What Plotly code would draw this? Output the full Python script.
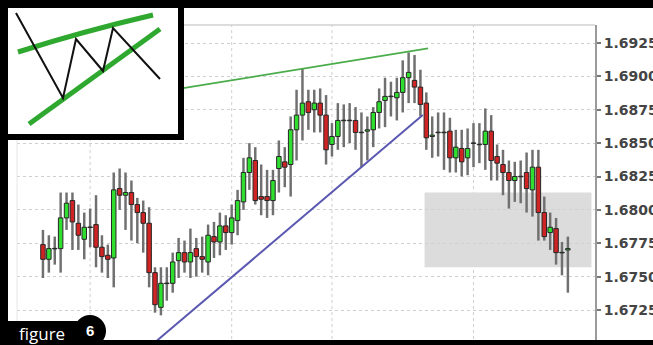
import plotly.graph_objects as go

# ---- data (prices) ----
opens = [1.6774, 1.6763, 1.6771, 1.6771, 1.6794, 1.6807, 1.6790, 1.6778, 1.6787, 1.6789,
         1.6772, 1.6766, 1.6764, 1.6816, 1.6811, 1.6813, 1.6804, 1.6798, 1.6790, 1.6753,
         1.6727, 1.6745, 1.6745, 1.6762, 1.6768, 1.6761, 1.6771, 1.6765, 1.6761, 1.6780,
         1.6776, 1.6788, 1.6783, 1.6792, 1.6806, 1.6828, 1.6837, 1.6810, 1.6810, 1.6807,
         1.6831, 1.6836, 1.6834, 1.6860, 1.6871, 1.6881, 1.6875, 1.6880, 1.6871, 1.6849,
         1.6855, 1.6867, 1.6867, 1.6867, 1.6858, 1.6859, 1.6860, 1.6873, 1.6882, 1.6885,
         1.6884, 1.6888, 1.6899, 1.6897, 1.6892, 1.6880, 1.6855, 1.6858, 1.6858, 1.6859,
         1.6839, 1.6846, 1.6839, 1.6850, 1.6849, 1.6849, 1.6859, 1.6840, 1.6834, 1.6828,
         1.6822, 1.6825, 1.6828, 1.6815, 1.6832, 1.6798, 1.6783, 1.6786, 1.6768, 1.6770]
closes = [1.6763, 1.6771, 1.6771, 1.6794, 1.6805, 1.6791, 1.6781, 1.6787, 1.6787, 1.6772,
          1.6765, 1.6763, 1.6815, 1.6811, 1.6813, 1.6804, 1.6798, 1.6790, 1.6753, 1.6729,
          1.6745, 1.6745, 1.6761, 1.6768, 1.6761, 1.6768, 1.6765, 1.6763, 1.6781, 1.6776,
          1.6788, 1.6783, 1.6794, 1.6807, 1.6828, 1.6839, 1.6807, 1.6808, 1.6807, 1.6822,
          1.6840, 1.6832, 1.6860, 1.6871, 1.6880, 1.6873, 1.6880, 1.6871, 1.6845, 1.6855,
          1.6867, 1.6867, 1.6867, 1.6858, 1.6858, 1.6860, 1.6873, 1.6881, 1.6885, 1.6885,
          1.6888, 1.6899, 1.6903, 1.6892, 1.6879, 1.6854, 1.6856, 1.6858, 1.6858, 1.6839,
          1.6847, 1.6836, 1.6846, 1.6850, 1.6849, 1.6859, 1.6837, 1.6835, 1.6828, 1.6822,
          1.6825, 1.6825, 1.6816, 1.6832, 1.6798, 1.6780, 1.6787, 1.6768, 1.6768, 1.6771]
highs = [1.6785, 1.6781, 1.6780, 1.6813, 1.6813, 1.6813, 1.6804, 1.6798, 1.6801, 1.6811,
         1.6781, 1.6774, 1.6828, 1.6831, 1.6828, 1.6822, 1.6809, 1.6807, 1.6802, 1.6757,
         1.6757, 1.6757, 1.6768, 1.6779, 1.6777, 1.6786, 1.6779, 1.6780, 1.6789, 1.6791,
         1.6798, 1.6796, 1.6804, 1.6815, 1.6839, 1.6850, 1.6847, 1.6834, 1.6830, 1.6830,
         1.6852, 1.6847, 1.6870, 1.6890, 1.6906, 1.6890, 1.6890, 1.6891, 1.6886, 1.6865,
         1.6880, 1.6879, 1.6880, 1.6877, 1.6873, 1.6870, 1.6877, 1.6891, 1.6899, 1.6896,
         1.6899, 1.6912, 1.6918, 1.6916, 1.6905, 1.6888, 1.6870, 1.6873, 1.6873, 1.6869,
         1.6860, 1.6860, 1.6861, 1.6865, 1.6865, 1.6876, 1.6871, 1.6849, 1.6845, 1.6837,
         1.6836, 1.6837, 1.6843, 1.6845, 1.6845, 1.6810, 1.6798, 1.6794, 1.6776, 1.6780]
lows = [1.6749, 1.6753, 1.6759, 1.6753, 1.6785, 1.6770, 1.6770, 1.6763, 1.6772, 1.6757,
        1.6753, 1.6749, 1.6742, 1.6800, 1.6785, 1.6777, 1.6775, 1.6768, 1.6742, 1.6723,
        1.6721, 1.6732, 1.6738, 1.6749, 1.6753, 1.6749, 1.6750, 1.6753, 1.6751, 1.6764,
        1.6766, 1.6770, 1.6774, 1.6781, 1.6800, 1.6815, 1.6804, 1.6796, 1.6794, 1.6796,
        1.6813, 1.6817, 1.6810, 1.6837, 1.6852, 1.6860, 1.6858, 1.6858, 1.6834, 1.6840,
        1.6845, 1.6847, 1.6850, 1.6845, 1.6832, 1.6837, 1.6847, 1.6861, 1.6862, 1.6870,
        1.6867, 1.6873, 1.6880, 1.6880, 1.6870, 1.6845, 1.6839, 1.6840, 1.6830, 1.6828,
        1.6828, 1.6825, 1.6826, 1.6832, 1.6835, 1.6830, 1.6822, 1.6822, 1.6811, 1.6801,
        1.6806, 1.6805, 1.6798, 1.6795, 1.6777, 1.6777, 1.6770, 1.6759, 1.6751, 1.6738]

tick_vals = [1.6700, 1.6725, 1.6750, 1.6775, 1.6800, 1.6825, 1.6850, 1.6875, 1.6900, 1.6925]
tick_text = ["1.6700", "1.6725", "1.6750", "1.6775", "1.6800", "1.6825", "1.6850", "1.6875", "1.6900", "1.6925"]

upper_trend_x = [23.5, 65.3]
upper_trend_y = [1.6891, 1.6921]
lower_trend_x = [18.5, 64.4]
lower_trend_y = [1.6699, 1.6871]
zone_x = [64.7, 93.0]
zone_y = [1.6757, 1.6813]
session_breaks = [8, 32, 49, 73]

# ---- figure ----
W, H = 653, 345
n = len(opens)
idx = list(range(n))

min_body = 0.00004
bases, heights, colors = [], [], []
for o, c in zip(opens, closes):
    lo, hi = min(o, c), max(o, c)
    if hi - lo < min_body:
        mid = (hi + lo) / 2
        lo, hi = mid - min_body / 2, mid + min_body / 2
    bases.append(lo)
    heights.append(hi - lo)
    colors.append('#30de30' if c >= o else '#d02424')

wick_len = [h - l for h, l in zip(highs, lows)]

fig = go.Figure()
fig.add_trace(go.Bar(x=idx, y=wick_len, base=lows, width=0.42,
                     marker=dict(color='#707070', line=dict(width=0)),
                     hoverinfo='skip'))
fig.add_trace(go.Bar(x=idx, y=heights, base=bases, width=0.76,
                     marker=dict(color=colors, line=dict(color='#262626', width=1)),
                     hoverinfo='skip'))
fig.add_trace(go.Scatter(x=upper_trend_x, y=upper_trend_y, mode='lines',
                         line=dict(color='#4aac4a', width=1.6), hoverinfo='skip'))
fig.add_trace(go.Scatter(x=lower_trend_x, y=lower_trend_y, mode='lines',
                         line=dict(color='#5a58b0', width=2), hoverinfo='skip'))

def px(x):
    return x / W

def py(y):
    return 1 - y / H

shapes = []
shapes.append(dict(type='rect', xref='x', yref='y', x0=zone_x[0], x1=zone_x[1],
                   y0=zone_y[0], y1=zone_y[1], fillcolor='#dcdcdc',
                   line=dict(width=0), layer='below'))
for b in session_breaks:
    shapes.append(dict(type='line', xref='x', yref='paper', x0=b, x1=b, y0=0, y1=py(25),
                       line=dict(color='#cfcfcf', width=1, dash='dot'), layer='below'))
shapes.append(dict(type='line', xref='paper', yref='paper', x0=px(17), x1=px(595),
                   y0=py(25), y1=py(25), line=dict(color='#d0d0d0', width=1.5)))
shapes.append(dict(type='line', xref='paper', yref='paper', x0=px(17), x1=px(17),
                   y0=0, y1=py(25), line=dict(color='#e6e6e6', width=1)))
# outer black frame
shapes.append(dict(type='rect', xref='paper', yref='paper', x0=0, x1=1, y0=py(8), y1=1,
                   fillcolor='black', line=dict(width=0)))
shapes.append(dict(type='rect', xref='paper', yref='paper', x0=0, x1=px(8), y0=0, y1=1,
                   fillcolor='black', line=dict(width=0)))
shapes.append(dict(type='rect', xref='paper', yref='paper', x0=0, x1=1, y0=0, y1=py(340),
                   fillcolor='black', line=dict(width=0)))
# inset box
shapes.append(dict(type='rect', xref='paper', yref='paper', x0=0, x1=px(184), y0=py(140), y1=1,
                   fillcolor='black', line=dict(width=0)))
shapes.append(dict(type='rect', xref='paper', yref='paper', x0=px(8), x1=px(178),
                   y0=py(134), y1=py(8), fillcolor='white', line=dict(width=0)))

def path(points, curve=None):
    s = f"M {px(points[0][0])},{py(points[0][1])}"
    if curve is not None:
        s += f" Q {px(curve[0])},{py(curve[1])} {px(points[1][0])},{py(points[1][1])}"
    else:
        for x, y in points[1:]:
            s += f" L {px(x)},{py(y)}"
    return s

shapes.append(dict(type='path', xref='paper', yref='paper',
                   path=path([(18, 52), (153, 15)], curve=(84, 31)),
                   line=dict(color='#2ea82e', width=5)))
shapes.append(dict(type='path', xref='paper', yref='paper',
                   path=path([(29, 124), (160, 29)]),
                   line=dict(color='#2ea82e', width=5)))
shapes.append(dict(type='path', xref='paper', yref='paper',
                   path=path([(16, 13), (63, 98), (76, 39), (103, 71), (113, 28), (160, 79)]),
                   line=dict(color='#111111', width=2)))
# "figure 6" tab
shapes.append(dict(type='rect', xref='paper', yref='paper', x0=0, x1=px(90),
                   y0=0, y1=py(321), fillcolor='black', line=dict(width=0)))
shapes.append(dict(type='circle', xref='paper', yref='paper', x0=px(74), x1=px(106),
                   y0=py(347), y1=py(315), fillcolor='black', line=dict(width=0)))

annotations = [
    dict(text='figure', xref='paper', yref='paper', x=px(17), y=py(333), xanchor='left',
         yanchor='middle', showarrow=False,
         font=dict(family='Open Sans', size=17, color='white')),
    dict(text='<b>6</b>', xref='paper', yref='paper', x=px(90), y=py(330), xanchor='center',
         yanchor='middle', showarrow=False,
         font=dict(family='Liberation Sans', size=15, color='white')),
]

fig.update_layout(
    width=W, height=H, margin=dict(l=0, r=0, t=0, b=0, autoexpand=False),
    paper_bgcolor='white', plot_bgcolor='white', showlegend=False,
    barmode='overlay',
    shapes=shapes, annotations=annotations,
    xaxis=dict(domain=[px(17), px(595)], range=[-4.4, 93.6], visible=False,
               fixedrange=True, automargin=False),
    yaxis=dict(domain=[0, py(25)], range=[1.66988, 1.69385], side='right',
               automargin=False,
               tickvals=tick_vals, ticktext=tick_text,
               showline=True, linecolor='#9a9a9a', linewidth=2,
               ticks='outside', ticklen=4, tickcolor='#777', tickwidth=1.5,
               showgrid=True, gridcolor='#cfcfcf', griddash='dot', gridwidth=1,
               zeroline=False, fixedrange=True,
               tickfont=dict(family='DejaVu Sans', size=14, color='#444', weight='bold')),
)

fig.write_html("out.html", config={'displayModeBar': False},
               post_script="document.body.style.margin='0';document.body.style.overflow='hidden';")
